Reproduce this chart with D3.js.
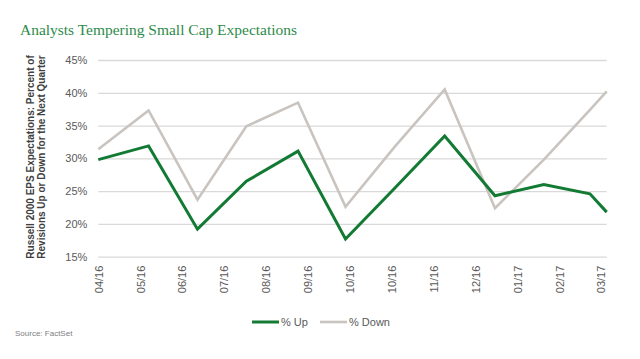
<!DOCTYPE html>
<html>
<head>
<meta charset="utf-8">
<script src="https://cdn.jsdelivr.net/npm/d3@7"></script>
<style>
  html, body { margin: 0; padding: 0; background: #fff; }
  svg { display: block; }
</style>
</head>
<body>
<svg id="chart" width="640" height="359"></svg>
<script>
// ---- data ----
const dates = ["2016-04-02","2016-05-08","2016-06-12","2016-07-17","2016-08-23","2016-09-26",
               "2016-10-31","2016-12-06","2017-01-11","2017-02-15","2017-03-20","2017-04-01"];
const pctUp   = [29.8, 31.9, 19.2, 26.5, 31.1, 17.7, 25.4, 33.4, 24.3, 26.0, 24.6, 21.8];
const pctDown = [31.4, 37.3, 23.7, 34.9, 38.5, 22.6, 31.7, 40.5, 22.4, 29.8, 37.4, 40.2];
const tickLabels = ["04/16","05/16","06/16","07/16","08/16","09/16","10/16","10/16",
                    "11/16","12/16","01/17","02/17","03/17"];
const yTicks = [15, 20, 25, 30, 35, 40, 45];
const seriesNames = ["% Up", "% Down"];

(function () {
const parse = d3.timeParse("%Y-%m-%d");
const svg = d3.select("#chart");

const pLeft = 98.3, pRight = 606.7, pTop = 60, pBottom = 256.7;
const x = d3.scaleTime()
  .domain([parse("2016-04-02"), parse("2017-04-01")])
  .range([pLeft, pRight]);
const y = d3.scaleLinear().domain([15, 45]).range([pBottom, pTop]);

// title
svg.append("text")
  .attr("x", 20).attr("y", 35)
  .attr("font-family", "Liberation Serif, Times New Roman, serif")
  .attr("font-size", 15.5)
  .attr("fill", "#2e8b4a")
  .attr("textLength", 277).attr("lengthAdjust", "spacingAndGlyphs")
  .text("Analysts Tempering Small Cap Expectations");

// gridlines + y axis
const yAxis = d3.axisLeft(y).tickValues(yTicks).tickFormat(d => d + "%")
  .tickSize(-(pRight - pLeft)).tickPadding(11);
const gy = svg.append("g").attr("transform", `translate(${pLeft},0)`).call(yAxis);
gy.select(".domain").remove();
gy.selectAll(".tick line").attr("stroke", "#d9d9d9").attr("stroke-width", 1.3);
gy.selectAll(".tick text")
  .attr("font-family", "Liberation Sans, Arial, sans-serif")
  .attr("font-size", 11).attr("fill", "#595959");

// x axis
const start = parse("2016-04-02");
const tickDates = tickLabels.map((_, i) => d3.timeDay.offset(start, 30 * i));
const xAxis = d3.axisBottom(x).tickValues(tickDates)
  .tickFormat((d, i) => tickLabels[i]).tickSize(0).tickPadding(9);
const gx = svg.append("g").attr("transform", `translate(0,${pBottom})`).call(xAxis);
gx.select(".domain").remove();
gx.selectAll(".tick text")
  .attr("font-family", "Liberation Sans, Arial, sans-serif")
  .attr("font-size", 11).attr("fill", "#595959")
  .attr("transform", "rotate(-90)")
  .attr("text-anchor", "end")
  .attr("dy", "0.35em")
  .attr("x", -9).attr("y", 0);

// y axis title
const yt = svg.append("text")
  .attr("transform", "translate(33.5,157) rotate(-90)")
  .attr("text-anchor", "middle")
  .attr("font-family", "Liberation Sans, Arial, sans-serif")
  .attr("font-size", 10).attr("font-weight", "bold").attr("fill", "#404040");
yt.append("tspan").attr("x", 0).attr("dy", 0).text("Russell 2000 EPS Expectations: Percent of");
yt.append("tspan").attr("x", 0).attr("dy", 11.7).text("Revisions Up or Down for the Next Quarter");

// lines
const series = [
  { name: seriesNames[0], values: pctUp, color: "#127a33", width: 3 },
  { name: seriesNames[1], values: pctDown, color: "#c9c4bf", width: 2.6 }
];
const line = d3.line().x(d => x(d.date)).y(d => y(d.v));
[series[1], series[0]].forEach(s => {
  const pts = dates.map((d, i) => ({ date: parse(d), v: s.values[i] }));
  svg.append("path").datum(pts)
    .attr("fill", "none").attr("stroke", s.color)
    .attr("stroke-width", s.width).attr("stroke-linejoin", "miter")
    .attr("d", line);
});

// legend
const legendPos = [252, 320];
series.forEach((s, i) => {
  const g = svg.append("g").attr("transform", `translate(${legendPos[i]},322)`);
  g.append("line").attr("x1", 0).attr("x2", 27).attr("y1", 0).attr("y2", 0)
    .attr("stroke", s.color).attr("stroke-width", s.width);
  g.append("text").attr("x", 29).attr("y", 0).attr("dy", "0.35em")
    .attr("font-family", "Liberation Sans, Arial, sans-serif")
    .attr("font-size", 11).attr("fill", "#595959").text(s.name);
});

// source
svg.append("text").attr("x", 15).attr("y", 336)
  .attr("font-family", "Liberation Sans, Arial, sans-serif")
  .attr("font-size", 8).attr("fill", "#808080").text("Source: FactSet");
})();
</script>
</body>
</html>
